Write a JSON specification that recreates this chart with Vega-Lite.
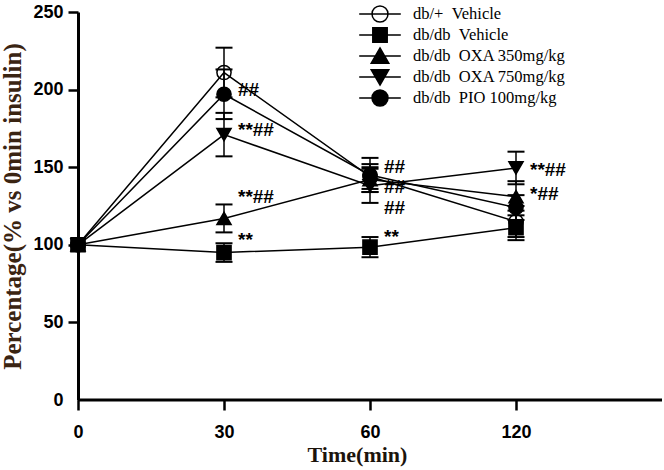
{
  "$schema": "https://vega.github.io/schema/vega-lite/v6.json",
  "width": 584,
  "height": 388,
  "autosize": {"type": "none"},
  "padding": {"left": 78, "top": 12, "right": 2, "bottom": 70},
  "background": "white",
  "config": {"view": {"stroke": null}},
  "datasets": {
    "main": [
      {"series": "db/+\u00a0\u00a0Vehicle", "time": 0, "mean": 100},
      {"series": "db/+\u00a0\u00a0Vehicle", "time": 30, "mean": 211, "lo": 195, "hi": 227},
      {"series": "db/+\u00a0\u00a0Vehicle", "time": 60, "mean": 144, "lo": 136, "hi": 152},
      {"series": "db/+\u00a0\u00a0Vehicle", "time": 120, "mean": 115, "lo": 105, "hi": 125},
      {"series": "db/db\u00a0\u00a0PIO 100mg/kg", "time": 0, "mean": 100},
      {"series": "db/db\u00a0\u00a0PIO 100mg/kg", "time": 30, "mean": 197, "lo": 181, "hi": 213},
      {"series": "db/db\u00a0\u00a0PIO 100mg/kg", "time": 60, "mean": 145, "lo": 134, "hi": 156},
      {"series": "db/db\u00a0\u00a0PIO 100mg/kg", "time": 120, "mean": 124, "lo": 116, "hi": 132},
      {"series": "db/db\u00a0\u00a0OXA 750mg/kg", "time": 0, "mean": 100},
      {"series": "db/db\u00a0\u00a0OXA 750mg/kg", "time": 30, "mean": 171, "lo": 157, "hi": 185},
      {"series": "db/db\u00a0\u00a0OXA 750mg/kg", "time": 60, "mean": 138, "lo": 127, "hi": 149},
      {"series": "db/db\u00a0\u00a0OXA 750mg/kg", "time": 120, "mean": 149.5, "lo": 139, "hi": 160},
      {"series": "db/db\u00a0\u00a0OXA 350mg/kg", "time": 0, "mean": 100},
      {"series": "db/db\u00a0\u00a0OXA 350mg/kg", "time": 30, "mean": 117, "lo": 108, "hi": 126},
      {"series": "db/db\u00a0\u00a0OXA 350mg/kg", "time": 60, "mean": 142, "lo": 134, "hi": 150},
      {"series": "db/db\u00a0\u00a0OXA 350mg/kg", "time": 120, "mean": 131, "lo": 122, "hi": 141},
      {"series": "db/db\u00a0\u00a0Vehicle", "time": 0, "mean": 100},
      {"series": "db/db\u00a0\u00a0Vehicle", "time": 30, "mean": 95, "lo": 89, "hi": 101},
      {"series": "db/db\u00a0\u00a0Vehicle", "time": 60, "mean": 98.5, "lo": 92, "hi": 105},
      {"series": "db/db\u00a0\u00a0Vehicle", "time": 120, "mean": 111, "lo": 103, "hi": 119}
    ],
    "ann": [
      {"time": 30, "y": 199.5, "label": "##"},
      {"time": 30, "y": 174, "label": "**##"},
      {"time": 30, "y": 131, "label": "**##"},
      {"time": 30, "y": 103, "label": "**"},
      {"time": 60, "y": 150, "label": "##"},
      {"time": 60, "y": 137, "label": "##"},
      {"time": 60, "y": 124, "label": "##"},
      {"time": 60, "y": 105, "label": "**"},
      {"time": 120, "y": 148, "label": "**##"},
      {"time": 120, "y": 133, "label": "*##"}
    ]
  },
  "layer": [
    {
      "data": {"name": "main"},
      "mark": {"type": "point", "size": 200, "stroke": "black", "strokeWidth": 1.5, "opacity": 1},
      "encoding": {
        "x": {
          "field": "time", "type": "ordinal",
          "scale": {"type": "point", "domain": [0, 30, 60, 120], "range": [0, 438], "padding": 0},
          "axis": {
            "title": "Time(min)", "domain": false, "tickSize": 10, "tickWidth": 2.5, "tickColor": "black",
            "labelFont": "Liberation Sans", "labelFontWeight": "bold", "labelFontSize": 18, "labelColor": "black",
            "labelPadding": 13, "labelAngle": 0,
            "titleFont": "Liberation Serif", "titleFontWeight": "bold", "titleFontSize": 22, "titleColor": "#1c140c",
            "titlePadding": 3, "titleX": 279, "titleAlign": "center", "titleAnchor": "start"
          }
        },
        "y": {
          "field": "mean", "type": "quantitative", "title": "Percentage(% vs 0min insulin)",
          "scale": {"domain": [0, 250], "nice": false},
          "axis": {
            "values": [0, 50, 100, 150, 200, 250], "grid": false,
            "domain": true, "domainWidth": 3, "domainColor": "black",
            "tickSize": 10, "tickWidth": 2.5, "tickColor": "black",
            "tickOpacity": {"condition": {"test": "datum.value === 0", "value": 0}, "value": 1},
            "labelFont": "Liberation Sans", "labelFontWeight": "bold", "labelFontSize": 18, "labelColor": "black", "labelPadding": 5,
            "titleFont": "Liberation Serif", "titleFontWeight": "bold", "titleFontSize": 25, "titleColor": "#3a2412", "titlePadding": 7
          }
        },
        "shape": {
          "field": "series", "type": "nominal", "legend": null,
          "scale": {
            "domain": ["db/+\u00a0\u00a0Vehicle", "db/db\u00a0\u00a0Vehicle", "db/db\u00a0\u00a0OXA 350mg/kg", "db/db\u00a0\u00a0OXA 750mg/kg", "db/db\u00a0\u00a0PIO 100mg/kg"],
            "range": ["circle", "square", "triangle-up", "triangle-down", "circle"]
          }
        },
        "fill": {
          "field": "series", "type": "nominal", "legend": null,
          "scale": {
            "domain": ["db/+\u00a0\u00a0Vehicle", "db/db\u00a0\u00a0Vehicle", "db/db\u00a0\u00a0OXA 350mg/kg", "db/db\u00a0\u00a0OXA 750mg/kg", "db/db\u00a0\u00a0PIO 100mg/kg"],
            "range": ["white", "black", "black", "black", "black"]
          }
        }
      }
    },
    {
      "data": {"name": "main"},
      "mark": {"type": "line", "color": "black", "strokeWidth": 1.5},
      "encoding": {
        "x": {"field": "time", "type": "ordinal"},
        "y": {"field": "mean", "type": "quantitative", "title": "Percentage(% vs 0min insulin)"},
        "detail": {"field": "series", "type": "nominal"}
      }
    },
    {
      "data": {"name": "main"},
      "mark": {"type": "rule", "color": "black", "strokeWidth": 1.5},
      "encoding": {
        "x": {"field": "time", "type": "ordinal"},
        "y": {"field": "lo", "type": "quantitative", "title": "Percentage(% vs 0min insulin)"},
        "y2": {"field": "hi"}
      }
    },
    {
      "data": {"name": "main"},
      "mark": {"type": "tick", "color": "black", "size": 17, "thickness": 2, "orient": "horizontal", "opacity": 1},
      "encoding": {
        "x": {"field": "time", "type": "ordinal"},
        "y": {"field": "lo", "type": "quantitative", "title": "Percentage(% vs 0min insulin)"}
      }
    },
    {
      "data": {"name": "main"},
      "mark": {"type": "tick", "color": "black", "size": 17, "thickness": 2, "orient": "horizontal", "opacity": 1},
      "encoding": {
        "x": {"field": "time", "type": "ordinal"},
        "y": {"field": "hi", "type": "quantitative", "title": "Percentage(% vs 0min insulin)"}
      }
    },
    {
      "data": {"name": "ann"},
      "mark": {"type": "text", "align": "left", "baseline": "middle", "dx": 14, "font": "Liberation Sans", "fontWeight": "bold", "fontSize": 19, "color": "black"},
      "encoding": {
        "x": {"field": "time", "type": "ordinal"},
        "y": {"field": "y", "type": "quantitative", "title": "Percentage(% vs 0min insulin)"},
        "text": {"field": "label", "type": "nominal"}
      }
    },
    {
      "data": {"values": [{}]},
      "mark": {"type": "rule", "color": "black", "strokeWidth": 3},
      "encoding": {"y": {"datum": 0, "type": "quantitative"}}
    },
    {
      "data": {"name": "main"},
      "transform": [{"filter": "false"}],
      "mark": {"type": "point", "size": 256, "stroke": "black", "strokeWidth": 1.5, "opacity": 1},
      "encoding": {
        "x": {"field": "time", "type": "ordinal"},
        "y": {"field": "mean", "type": "quantitative", "title": "Percentage(% vs 0min insulin)"},
        "shape": {
          "field": "series", "type": "nominal",
          "scale": {
            "domain": ["db/+\u00a0\u00a0Vehicle", "db/db\u00a0\u00a0Vehicle", "db/db\u00a0\u00a0OXA 350mg/kg", "db/db\u00a0\u00a0OXA 750mg/kg", "db/db\u00a0\u00a0PIO 100mg/kg"],
            "range": [
              "M-2.6,0H2.6M-1,0A1,1,0,1,0,1,0A1,1,0,1,0,-1,0Z",
              "M-2.6,0H2.6M-0.9,-0.9H0.9V0.9H-0.9Z",
              "M-2.6,0H2.6M0,-1L1.1,0.9H-1.1Z",
              "M-2.6,0H2.6M0,1L1.1,-0.9H-1.1Z",
              "M-2.6,0H2.6M-1,0A1,1,0,1,0,1,0A1,1,0,1,0,-1,0Z"
            ]
          },
          "legend": {
            "orient": "none", "legendX": 293, "legendY": -7, "title": null, "padding": 0,
            "symbolSize": 256, "symbolStrokeWidth": 1.5, "symbolStrokeColor": "black", "symbolOpacity": 1,
            "labelFont": "Liberation Serif", "labelFontSize": 16.5, "labelColor": "black", "labelOffset": 24,
            "rowPadding": -1, "labelLimit": 300,
            "encode": {"symbols": {"update": {"stroke": {"value": "black"}, "strokeWidth": {"value": 1.5}, "strokeOpacity": {"value": 1}}}}
          }
        },
        "fill": {
          "field": "series", "type": "nominal",
          "scale": {
            "domain": ["db/+\u00a0\u00a0Vehicle", "db/db\u00a0\u00a0Vehicle", "db/db\u00a0\u00a0OXA 350mg/kg", "db/db\u00a0\u00a0OXA 750mg/kg", "db/db\u00a0\u00a0PIO 100mg/kg"],
            "range": ["white", "black", "black", "black", "black"]
          },
          "legend": {
            "orient": "none", "legendX": 293, "legendY": -7, "title": null, "padding": 0,
            "symbolSize": 256, "symbolStrokeWidth": 1.5, "symbolStrokeColor": "black", "symbolOpacity": 1,
            "labelFont": "Liberation Serif", "labelFontSize": 16.5, "labelColor": "black", "labelOffset": 24,
            "rowPadding": -1, "labelLimit": 300,
            "encode": {"symbols": {"update": {"stroke": {"value": "black"}, "strokeWidth": {"value": 1.5}, "strokeOpacity": {"value": 1}}}}
          }
        }
      }
    }
  ],
  "resolve": {"scale": {"shape": "independent", "fill": "independent"}}
}
